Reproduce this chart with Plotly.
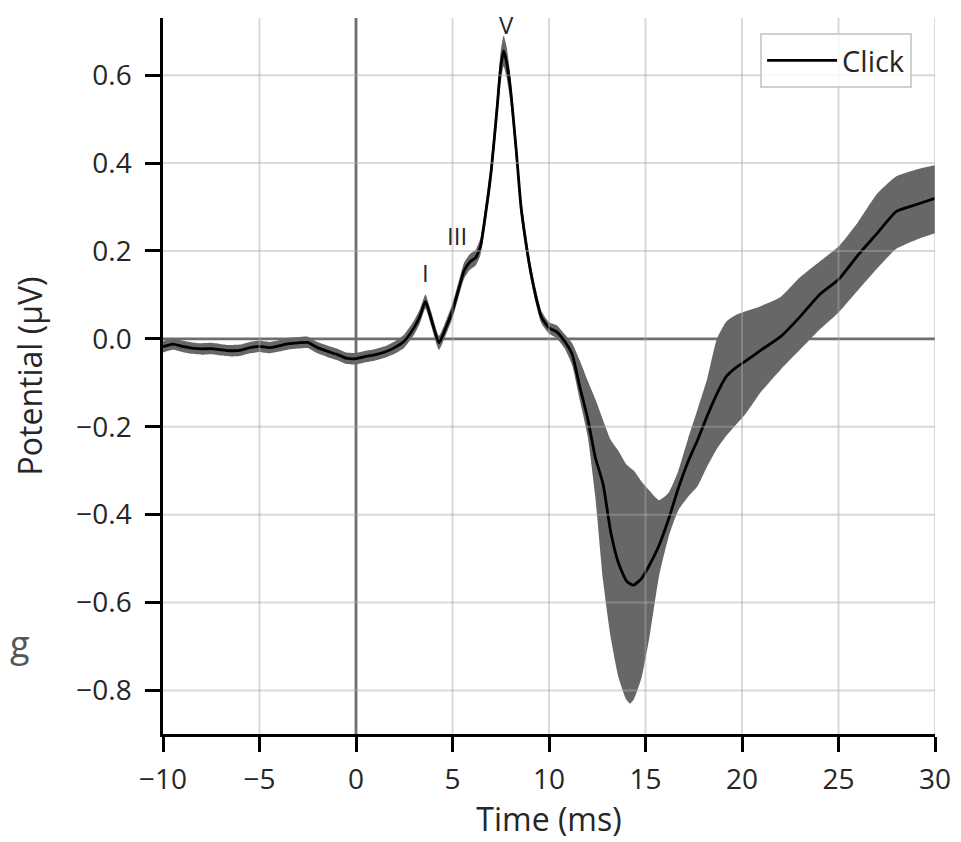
import plotly.graph_objects as go

# ---- data ----
time_ms = [-10, -9.5, -9, -8.5, -8, -7.5, -7, -6.5, -6, -5.5, -5, -4.5, -4, -3.5, -3, -2.5,
           -2, -1.5, -1, -0.5, 0, 0.5, 1, 1.5, 2, 2.5, 3, 3.3, 3.6, 3.9, 4.3, 4.7, 5.0, 5.3,
           5.6, 5.9, 6.2, 6.45, 6.7, 7.0, 7.3, 7.5, 7.65, 7.8, 8.0, 8.3, 8.55, 8.8, 9.0, 9.3,
           9.6, 10.0, 10.4, 10.8, 11.2, 11.6, 12.0, 12.4, 12.8, 13.2, 13.6, 14.0, 14.2, 14.4,
           14.8, 15.2, 15.7, 16.2, 16.7, 17.2, 17.7, 18.2, 18.7, 19.2, 19.7, 20.2, 21, 22, 23,
           24, 25, 26, 27, 28, 29, 30]

mean_uv = [-0.018, -0.012, -0.017, -0.021, -0.023, -0.022, -0.025, -0.027, -0.026, -0.020,
           -0.017, -0.020, -0.016, -0.011, -0.009, -0.008, -0.020, -0.028, -0.035, -0.044,
           -0.045, -0.040, -0.036, -0.030, -0.020, -0.005, 0.025, 0.050, 0.085, 0.045,
           -0.009, 0.030, 0.064, 0.110, 0.155, 0.175, 0.185, 0.210, 0.280, 0.380, 0.520,
           0.620, 0.655, 0.630, 0.570, 0.430, 0.300, 0.220, 0.165, 0.100, 0.050, 0.025,
           0.016, -0.005, -0.035, -0.110, -0.180, -0.270, -0.330, -0.440, -0.510, -0.550,
           -0.557, -0.560, -0.545, -0.515, -0.470, -0.410, -0.340, -0.280, -0.230, -0.175,
           -0.125, -0.085, -0.065, -0.050, -0.025, 0.005, 0.050, 0.100, 0.135, 0.190,
           0.240, 0.290, 0.305, 0.320]

upper_uv = [-0.005, 0.001, -0.004, -0.008, -0.010, -0.009, -0.012, -0.014, -0.013, -0.007,
            -0.004, -0.007, -0.003, 0.002, 0.004, 0.005, -0.007, -0.015, -0.022, -0.031,
            -0.032, -0.027, -0.023, -0.017, -0.006, 0.010, 0.041, 0.066, 0.101, 0.061,
            0.007, 0.046, 0.081, 0.127, 0.173, 0.193, 0.203, 0.229, 0.301, 0.405, 0.550,
            0.655, 0.690, 0.665, 0.600, 0.455, 0.322, 0.240, 0.183, 0.116, 0.064, 0.038,
            0.031, 0.011, -0.010, -0.050, -0.095, -0.137, -0.185, -0.230, -0.255, -0.285,
            -0.293, -0.300, -0.325, -0.345, -0.367, -0.350, -0.300, -0.228, -0.160, -0.090,
            0.000, 0.040, 0.055, 0.063, 0.075, 0.095, 0.140, 0.175, 0.210, 0.265, 0.330,
            0.370, 0.385, 0.395]

lower_uv = [-0.031, -0.025, -0.030, -0.034, -0.036, -0.035, -0.038, -0.040, -0.039, -0.033,
            -0.030, -0.033, -0.029, -0.024, -0.022, -0.021, -0.033, -0.041, -0.048, -0.057,
            -0.058, -0.053, -0.049, -0.043, -0.034, -0.020, 0.009, 0.034, 0.069, 0.029,
            -0.025, 0.014, 0.047, 0.093, 0.137, 0.157, 0.167, 0.191, 0.259, 0.355, 0.490,
            0.585, 0.620, 0.595, 0.540, 0.405, 0.278, 0.200, 0.147, 0.084, 0.036, 0.012,
            0.001, -0.021, -0.060, -0.140, -0.220, -0.360, -0.550, -0.680, -0.770, -0.820,
            -0.830, -0.820, -0.770, -0.680, -0.540, -0.450, -0.390, -0.360, -0.335, -0.290,
            -0.250, -0.220, -0.195, -0.170, -0.120, -0.070, -0.025, 0.020, 0.060, 0.110,
            0.160, 0.205, 0.225, 0.240]

peak_labels = ["I", "III", "V"]
peak_label_x = [3.6, 5.25, 7.8]
peak_label_y = [0.15, 0.235, 0.716]

x_ticks = [-10, -5, 0, 5, 10, 15, 20, 25, 30]
x_ticktext = ["\u221210", "\u22125", "0", "5", "10", "15", "20", "25", "30"]
y_ticks = [-0.8, -0.6, -0.4, -0.2, 0.0, 0.2, 0.4, 0.6]
y_ticktext = ["\u22120.8", "\u22120.6", "\u22120.4", "\u22120.2", "0.0", "0.2", "0.4", "0.6"]

series_name = "Click"

FONT = "Open Sans"
TXT = "#262626"

fig = go.Figure()

fig.add_trace(go.Scatter(x=time_ms, y=lower_uv, mode="lines",
                         line=dict(width=0, color="#666666", shape="spline", smoothing=0.5),
                         showlegend=False, hoverinfo="skip"))
fig.add_trace(go.Scatter(x=time_ms, y=upper_uv, mode="lines",
                         line=dict(width=0, color="#666666", shape="spline", smoothing=0.5),
                         fill="tonexty", fillcolor="#676767", showlegend=False, hoverinfo="skip"))
fig.add_trace(go.Scatter(x=time_ms, y=mean_uv, mode="lines", name=series_name,
                         line=dict(color="black", width=2.8, shape="spline", smoothing=0.5)))

shapes = []
# zero lines
shapes.append(dict(type="line", xref="x", yref="paper", x0=0, x1=0, y0=0, y1=1,
                   line=dict(color="rgb(110,110,110)", width=2.8), layer="below"))
shapes.append(dict(type="line", xref="paper", yref="y", x0=0, x1=1, y0=0, y1=0,
                   line=dict(color="rgb(110,110,110)", width=2.8), layer="below"))
# grid lines drawn over the traces (as in the reference)
for xv in x_ticks[1:]:
    if xv == 0:
        continue
    shapes.append(dict(type="line", xref="x", yref="paper", x0=xv, x1=xv, y0=0, y1=1,
                       line=dict(color="rgba(170,170,170,0.45)", width=2), layer="above"))
for yv in y_ticks:
    if yv == 0:
        continue
    shapes.append(dict(type="line", xref="paper", yref="y", x0=0, x1=1, y0=yv, y1=yv,
                       line=dict(color="rgba(170,170,170,0.45)", width=2), layer="above"))

annotations = []
for lab, lx, ly in zip(peak_labels, peak_label_x, peak_label_y):
    annotations.append(dict(x=lx, y=ly, xref="x", yref="y", text=lab, showarrow=False,
                            font=dict(family=FONT, size=24, color=TXT),
                            xanchor="center", yanchor="middle"))
# stray character at the left edge of the reference image
annotations.append(dict(x=-0.2003, y=0.126, xref="paper", yref="paper", text="g", showarrow=False,
                        font=dict(family=FONT, size=36, color="#555555"),
                        xanchor="left", yanchor="middle"))

fig.update_layout(
    width=953, height=834,
    margin=dict(l=155, r=24, t=10, b=107),
    paper_bgcolor="white", plot_bgcolor="white",
    font=dict(family=FONT, size=28, color=TXT),
    shapes=shapes, annotations=annotations,
    legend=dict(x=0.9703, y=0.979, xanchor="right", yanchor="top", itemwidth=70,
                bgcolor="rgba(255,255,255,0.8)", bordercolor="#d0d0d0", borderwidth=2,
                font=dict(family=FONT, size=29, color=TXT)),
    xaxis=dict(range=[-10, 30], tickvals=x_ticks, ticktext=x_ticktext, showgrid=False,
               zeroline=False, showline=True, linecolor="black", linewidth=2.5,
               ticks="outside", ticklen=15, tickwidth=2.5, tickcolor="black",
               ticklabelstandoff=4,
               tickfont=dict(family=FONT, size=28, color=TXT),
               title=dict(text="Time (ms)", font=dict(family=FONT, size=32, color=TXT),
                          standoff=12)),
    yaxis=dict(range=[-0.899, 0.730], tickvals=y_ticks, ticktext=y_ticktext, showgrid=False,
               zeroline=False, showline=True, linecolor="black", linewidth=2.5,
               ticks="outside", ticklen=15, tickwidth=2.5, tickcolor="black",
               ticklabelstandoff=8,
               tickfont=dict(family=FONT, size=28, color=TXT),
               title=dict(text="Potential (\u03bcV)", font=dict(family=FONT, size=32, color=TXT),
                          standoff=28)),
)

fig.write_html("out.html")
